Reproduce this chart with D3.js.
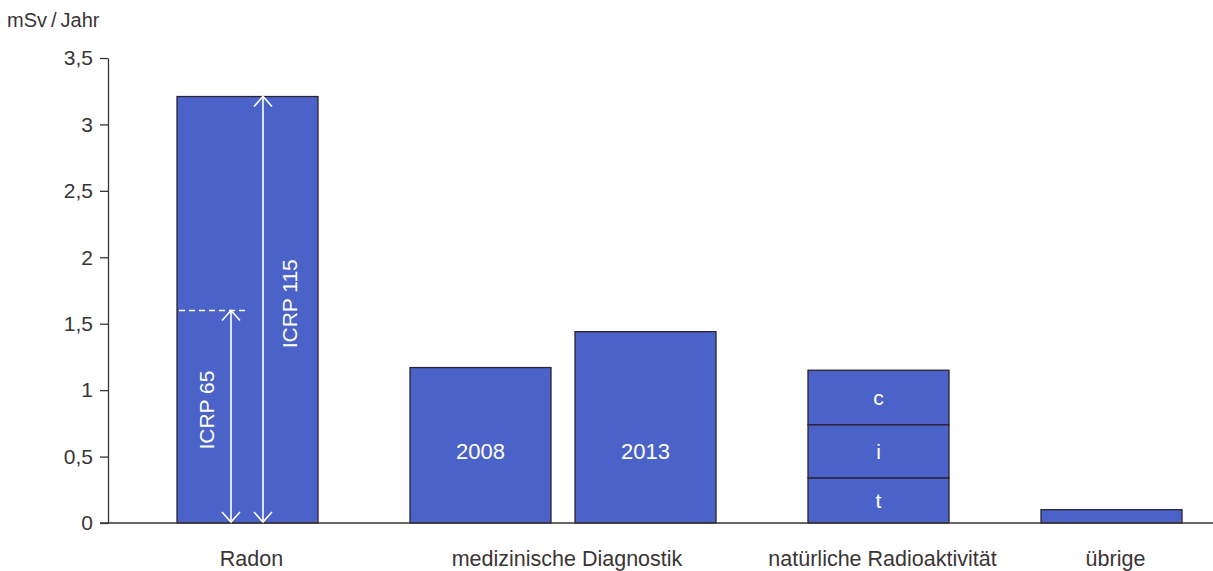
<!DOCTYPE html>
<html><head><meta charset="utf-8">
<script src="https://cdn.jsdelivr.net/npm/d3@7"></script>
<style>
html,body{margin:0;padding:0;background:#fff;}
text{font-family:"Liberation Sans",Arial,sans-serif;}
</style></head>
<body><svg id="c" width="1213" height="571"></svg>
<script>
// ---- data ----
const groups = ["Radon", "medizinische Diagnostik", "natürliche Radioaktivität", "übrige"];
const barKeys = ["Radon", "2008", "2013", "natürlich", "übrige"];
const barGroup = [0, 1, 1, 2, 3];
const barLabels = ["", "2008", "2013", "", ""];
const segKeys = ["t", "i", "c"];
const barSegments = [[3.21], [1.17], [1.44], [0.34, 0.40, 0.41], [0.1]];
const yTicks = [0, 0.5, 1, 1.5, 2, 2.5, 3, 3.5];
const yTitle = "mSv\u2009/\u2009Jahr";
const icrp65 = 1.6, icrp115 = 3.21;

// ---- layout ----
const svg = d3.select("#c");
const fill = "#4b62c8", edge = "#2b2233", ink = "#3a3535";
const y = d3.scaleLinear().domain([0, 3.5]).range([523, 58]);
const stepIn = 165, gapExtra = 68, bw = 141;
const x = d3.scaleLinear().domain([0, 1]).range([177, 177 + stepIn]);
const pos = barKeys.map((k, i) => x(i + barGroup[i] * gapExtra / stepIn));

// axis
const axis = d3.axisLeft(y).tickValues(yTicks).tickSize(8).tickSizeOuter(0)
  .tickFormat(d => String(d).replace(".", ","));
const ag = svg.append("g").attr("transform", "translate(108,0)").call(axis);
ag.select(".domain").attr("stroke", ink).attr("stroke-width", 1.3);
ag.selectAll(".tick line").attr("stroke", ink).attr("stroke-width", 1.3);
ag.selectAll(".tick text").attr("fill", ink).attr("font-size", 21).attr("x", -15)
  .style("font-family", '"Liberation Sans",Arial,sans-serif');

svg.append("text").attr("x", 7).attr("y", 27).attr("font-size", 20).attr("fill", ink).text(yTitle);

// bars
barSegments.forEach((segs, i) => {
  let acc = 0;
  segs.forEach((v, j) => {
    svg.append("rect").attr("x", pos[i]).attr("width", bw)
      .attr("y", y(acc + v)).attr("height", y(acc) - y(acc + v))
      .attr("fill", fill).attr("stroke", edge).attr("stroke-width", 1.3);
    if (segs.length > 1) {
      svg.append("text").attr("x", pos[i] + bw / 2).attr("y", (y(acc) + y(acc + v)) / 2)
        .attr("dy", "0.35em").attr("text-anchor", "middle").attr("fill", "#fff")
        .attr("font-size", 21).text(segKeys[j]);
    }
    acc += v;
  });
  if (barLabels[i]) {
    svg.append("text").attr("x", pos[i] + bw / 2).attr("y", y(0.54))
      .attr("dy", "0.35em").attr("text-anchor", "middle").attr("fill", "#fff")
      .attr("font-size", 22).text(barLabels[i]);
  }
});

// baseline
svg.append("line").attr("x1", 100).attr("x2", 1213).attr("y1", y(0)).attr("y2", y(0))
  .attr("stroke", ink).attr("stroke-width", 1.5);

// group labels
groups.forEach((g, gi) => {
  const idx = barGroup.map((b, i) => b === gi ? i : -1).filter(i => i >= 0);
  const cx = (pos[idx[0]] + pos[idx[idx.length - 1]] + bw) / 2;
  svg.append("text").attr("x", cx + 4).attr("y", 566).attr("text-anchor", "middle")
    .attr("font-size", 21.5).attr("fill", ink).text(g);
});

// ICRP annotations
const rx = pos[0];
function dblArrow(ax, top, bot) {
  const g = svg.append("g").attr("stroke", "#fff").attr("stroke-width", 1.6).attr("fill", "none");
  g.append("line").attr("x1", ax).attr("x2", ax).attr("y1", top).attr("y2", bot);
  g.append("path").attr("d", `M${ax - 9},${top + 10}L${ax},${top}L${ax + 9},${top + 10}`);
  g.append("path").attr("d", `M${ax - 9},${bot - 10}L${ax},${bot}L${ax + 9},${bot - 10}`);
}
svg.append("line").attr("x1", rx + 2).attr("x2", rx + 72).attr("y1", y(icrp65)).attr("y2", y(icrp65))
  .attr("stroke", "#fff").attr("stroke-width", 1.4).attr("stroke-dasharray", "6,4");
dblArrow(rx + 54, y(icrp65), y(0) - 1);
dblArrow(rx + 86, y(icrp115), y(0) - 1);
svg.append("text").attr("transform", `translate(${rx + 30},${y(0.85)}) rotate(-90)`)
  .attr("text-anchor", "middle").attr("dy", "0.35em").attr("fill", "#fff").attr("font-size", 21).text("ICRP 65");
svg.append("text").attr("transform", `translate(${rx + 113},${y(1.65)}) rotate(-90)`)
  .attr("text-anchor", "middle").attr("dy", "0.35em").attr("fill", "#fff").attr("font-size", 21).text("ICRP 115");
</script></body></html>
